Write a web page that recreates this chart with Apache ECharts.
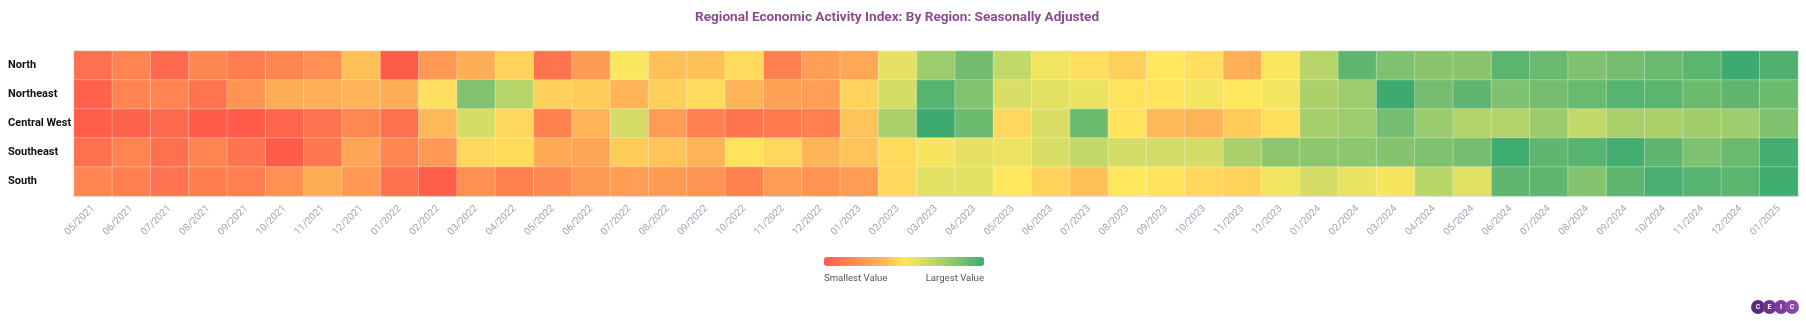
<!DOCTYPE html>
<html>
<head>
<meta charset="utf-8">
<script src="https://cdn.jsdelivr.net/npm/echarts@6/dist/echarts.min.js"></script>
<style>
  html, body { margin: 0; padding: 0; background: #ffffff; }
  #chart { width: 1806px; height: 321px; }
</style>
</head>
<body>
<div id="chart"></div>
<script>
// Monthly periods shown along the x axis
const months = [
  '05/2021','06/2021','07/2021','08/2021','09/2021','10/2021','11/2021','12/2021',
  '01/2022','02/2022','03/2022','04/2022','05/2022','06/2022','07/2022','08/2022',
  '09/2022','10/2022','11/2022','12/2022','01/2023','02/2023','03/2023','04/2023',
  '05/2023','06/2023','07/2023','08/2023','09/2023','10/2023','11/2023','12/2023',
  '01/2024','02/2024','03/2024','04/2024','05/2024','06/2024','07/2024','08/2024',
  '09/2024','10/2024','11/2024','12/2024','01/2025'
];

const regions = ['North', 'Northeast', 'Central West', 'Southeast', 'South'];

// Relative activity score per region (0 = smallest, 100 = largest)
const north = [
  8, 15, 5, 16, 12, 16, 20, 40, 0, 24, 34, 45, 9, 25, 51, 40, 40, 47, 13, 27, 31, 57, 77,
  88, 67, 54, 48, 44, 50, 48, 35, 51, 70, 92, 85, 82, 82, 93, 90, 85, 87, 90, 93, 100, 96
];
const northeast = [
  2, 15, 15, 9, 22, 33, 35, 37, 34, 48, 84, 70, 44, 43, 37, 44, 47, 37, 28, 27, 45, 62, 94,
  84, 61, 58, 56, 49, 49, 53, 50, 53, 73, 77, 100, 87, 92, 85, 87, 90, 94, 93, 89, 92, 89
];
const centralWest = [
  1, 3, 5, 0, 0, 4, 9, 17, 8, 38, 62, 46, 14, 36, 62, 26, 13, 9, 11, 13, 41, 74, 100,
  89, 46, 61, 89, 49, 38, 36, 43, 48, 75, 77, 87, 78, 71, 71, 78, 67, 74, 73, 76, 77, 85
];
const southeast = [
  8, 15, 8, 15, 9, 0, 10, 30, 16, 24, 46, 47, 32, 30, 43, 41, 36, 49, 46, 37, 41, 47, 52,
  57, 55, 61, 67, 62, 63, 62, 74, 81, 81, 81, 83, 85, 87, 99, 92, 94, 98, 92, 85, 90, 98
];
const south = [
  16, 13, 9, 12, 13, 20, 33, 24, 8, 1, 20, 14, 18, 25, 27, 25, 22, 14, 26, 22, 26, 46, 58,
  58, 50, 45, 40, 50, 49, 46, 45, 54, 62, 56, 52, 70, 59, 92, 92, 83, 92, 97, 94, 93, 99
];

const rowValues = [north, northeast, centralWest, southeast, south];

// Heatmap cells as [monthIndex, regionIndex, value]
const cells = [];
rowValues.forEach(function (row, r) {
  row.forEach(function (v, m) { cells.push([m, r, v]); });
});

const chart = echarts.init(document.getElementById('chart'), null, { renderer: 'canvas' });

chart.setOption({
  backgroundColor: '#ffffff',
  animation: false,
  textStyle: { fontFamily: 'Roboto, "Noto Sans", sans-serif' },
  title: {
    text: 'Regional Economic Activity Index: By Region: Seasonally Adjusted',
    left: 695,
    top: 11,
    padding: 0,
    textStyle: { color: '#8a4d8f', fontSize: 13.6, fontWeight: 'bold', fontFamily: 'Roboto' }
  },
  grid: { left: 74, right: 8, top: 51, bottom: 125, containLabel: false },
  xAxis: {
    type: 'category',
    data: months,
    axisLine: { show: true, lineStyle: { color: '#d5d9e3', width: 2 } },
    axisTick: { show: false },
    splitArea: { show: false },
    axisLabel: {
      interval: 0,
      rotate: 45,
      margin: 11,
      color: '#a3a3b5',
      fontSize: 10,
      fontFamily: 'Roboto'
    }
  },
  yAxis: {
    type: 'category',
    data: regions,
    inverse: true,
    axisLine: { show: false },
    axisTick: { show: false },
    splitArea: { show: false },
    axisLabel: {
      align: 'left',
      margin: 66,
      color: '#111111',
      fontSize: 11,
      fontWeight: 'bold',
      fontFamily: 'Roboto'
    }
  },
  visualMap: {
    type: 'continuous',
    min: 0,
    max: 100,
    calculable: false,
    orient: 'horizontal',
    left: 824,
    top: 257,
    padding: 0,
    itemWidth: 9,
    itemHeight: 160,
    text: null,
    inRange: {
      color: ['#ff5b4b', '#ff7e50', '#ff9a53', '#ffb657', '#ffe75e',
              '#d3dd67', '#a5cf6b', '#74bd6f', '#3daa70']
    }
  },
  graphic: [
    {
      type: 'text', left: 824, top: 274,
      style: { text: 'Smallest Value', fill: '#555555', font: '9.6px Roboto' }
    },
    {
      type: 'text', right: 1806 - 984, top: 274,
      style: { text: 'Largest Value', fill: '#555555', font: '9.6px Roboto' }
    },
    {
      type: 'group', left: 1751, top: 300,
      children: [
        { type: 'circle', shape: { cx: 7, cy: 7, r: 7 }, style: { fill: '#5b2a7c' } },
        { type: 'circle', shape: { cx: 18.5, cy: 7, r: 7 }, style: { fill: '#6f3490' } },
        { type: 'circle', shape: { cx: 30, cy: 7, r: 7 }, style: { fill: '#7f3c9e' } },
        { type: 'circle', shape: { cx: 41, cy: 7, r: 7 }, style: { fill: '#8c46a8' } },
        { type: 'text', x: 7, y: 7, style: { text: 'C', fill: '#ffffff', font: 'bold 7px Roboto', align: 'center', verticalAlign: 'middle' } },
        { type: 'text', x: 18.5, y: 7, style: { text: 'E', fill: '#ffffff', font: 'bold 7px Roboto', align: 'center', verticalAlign: 'middle' } },
        { type: 'text', x: 30, y: 7, style: { text: 'I', fill: '#ffffff', font: 'bold 7px Roboto', align: 'center', verticalAlign: 'middle' } },
        { type: 'text', x: 41, y: 7, style: { text: 'C', fill: '#ffffff', font: 'bold 7px Roboto', align: 'center', verticalAlign: 'middle' } }
      ]
    }
  ],
  series: [{
    name: 'Regional Economic Activity Index',
    type: 'heatmap',
    data: cells,
    itemStyle: { borderColor: 'rgba(255,255,255,0.3)', borderWidth: 1 },
    emphasis: { disabled: true }
  }]
});
</script>
</body>
</html>
